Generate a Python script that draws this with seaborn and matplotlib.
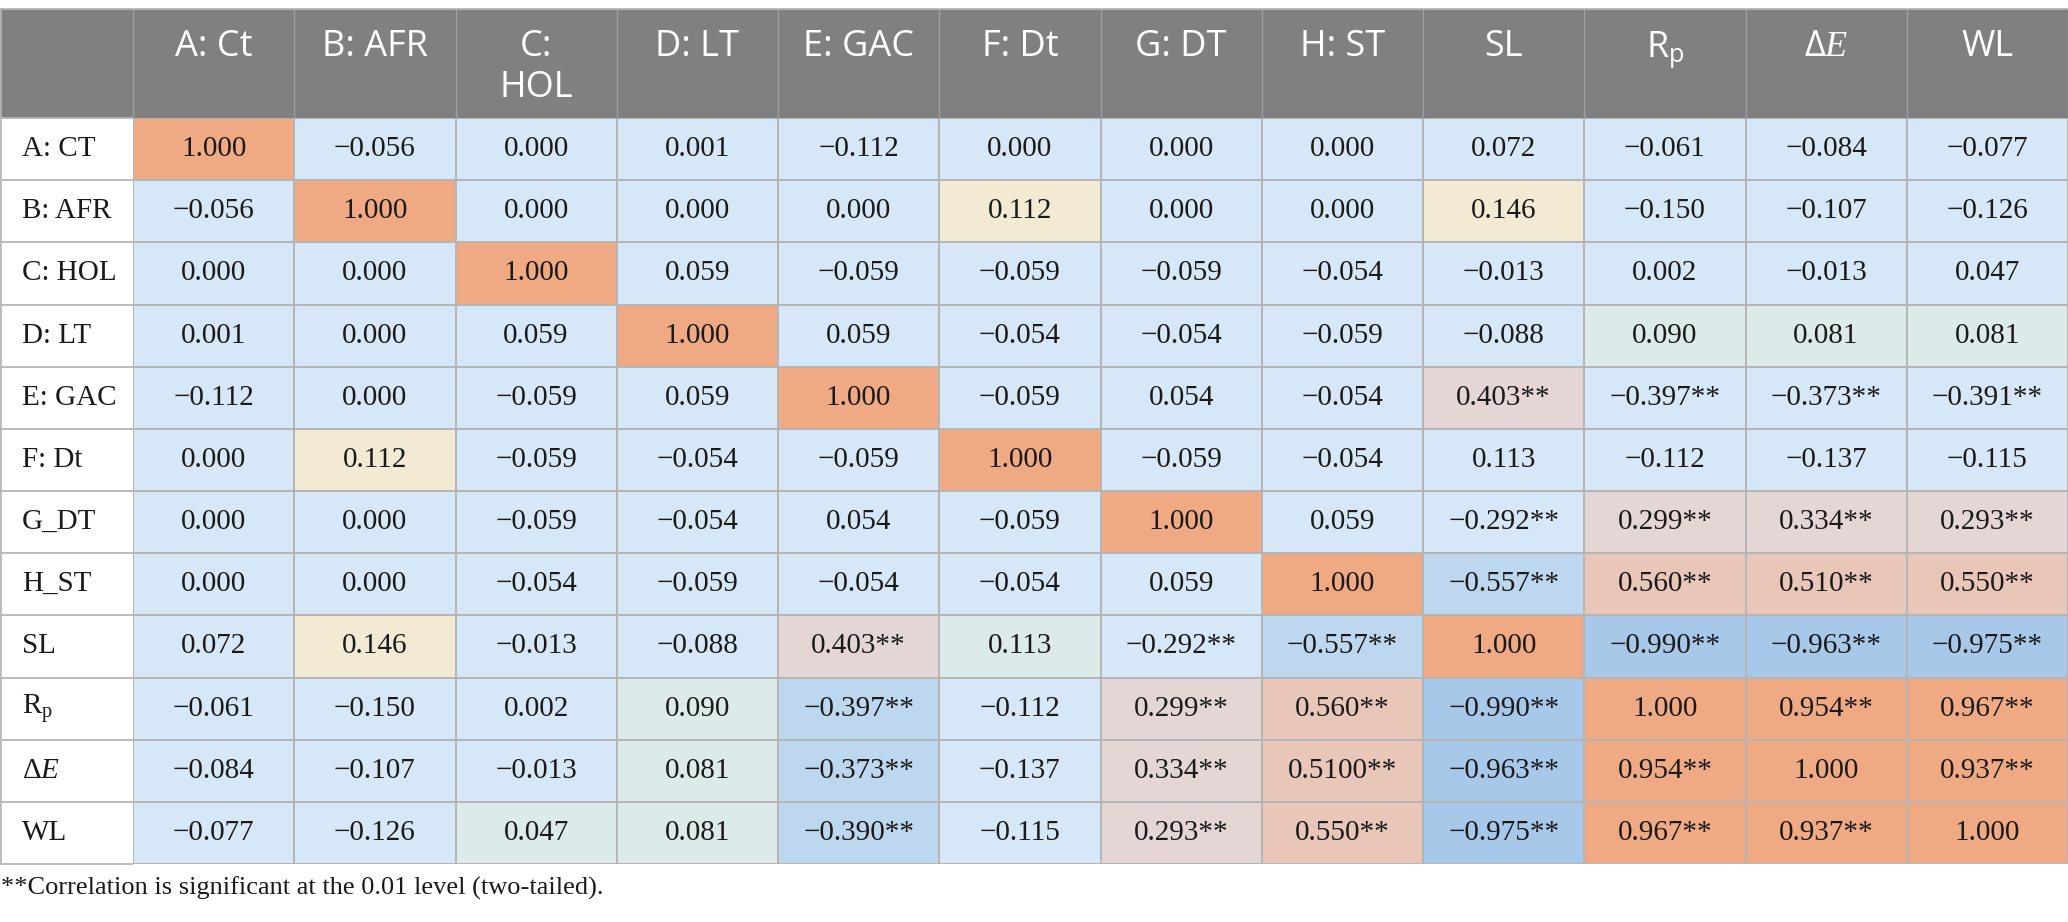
import numpy as np
import pandas as pd
import matplotlib
matplotlib.use("Agg")
import matplotlib.pyplot as plt
from matplotlib.colors import ListedColormap
from matplotlib.patches import Rectangle
import seaborn as sns

# correlation table, values as printed (with significance marks)
col_labels = ["A: Ct", "B: AFR", "C:\nHOL", "D: LT", "E: GAC", "F: Dt", "G: DT",
              "H: ST", "SL", r"R$_\mathregular{p}$", r"Δ$\mathit{E}$", "WL"]
row_labels = ["A: CT", "B: AFR", "C: HOL", "D: LT", "E: GAC", "F: Dt", "G_DT",
              "H_ST", "SL", r"R$_\mathregular{p}$", r"Δ$\mathit{E}$", "WL"]

cells = [
    ["1.000", "-0.056", "0.000", "0.001", "-0.112", "0.000", "0.000", "0.000", "0.072", "-0.061", "-0.084", "-0.077"],
    ["-0.056", "1.000", "0.000", "0.000", "0.000", "0.112", "0.000", "0.000", "0.146", "-0.150", "-0.107", "-0.126"],
    ["0.000", "0.000", "1.000", "0.059", "-0.059", "-0.059", "-0.059", "-0.054", "-0.013", "0.002", "-0.013", "0.047"],
    ["0.001", "0.000", "0.059", "1.000", "0.059", "-0.054", "-0.054", "-0.059", "-0.088", "0.090", "0.081", "0.081"],
    ["-0.112", "0.000", "-0.059", "0.059", "1.000", "-0.059", "0.054", "-0.054", "0.403**", "-0.397**", "-0.373**", "-0.391**"],
    ["0.000", "0.112", "-0.059", "-0.054", "-0.059", "1.000", "-0.059", "-0.054", "0.113", "-0.112", "-0.137", "-0.115"],
    ["0.000", "0.000", "-0.059", "-0.054", "0.054", "-0.059", "1.000", "0.059", "-0.292**", "0.299**", "0.334**", "0.293**"],
    ["0.000", "0.000", "-0.054", "-0.059", "-0.054", "-0.054", "0.059", "1.000", "-0.557**", "0.560**", "0.510**", "0.550**"],
    ["0.072", "0.146", "-0.013", "-0.088", "0.403**", "0.113", "-0.292**", "-0.557**", "1.000", "-0.990**", "-0.963**", "-0.975**"],
    ["-0.061", "-0.150", "0.002", "0.090", "-0.397**", "-0.112", "0.299**", "0.560**", "-0.990**", "1.000", "0.954**", "0.967**"],
    ["-0.084", "-0.107", "-0.013", "0.081", "-0.373**", "-0.137", "0.334**", "0.5100**", "-0.963**", "0.954**", "1.000", "0.937**"],
    ["-0.077", "-0.126", "0.047", "0.081", "-0.390**", "-0.115", "0.293**", "0.550**", "-0.975**", "0.967**", "0.937**", "1.000"],
]

# shading class of each cell as coloured in the source table
shade = [
    [7, 0, 0, 0, 0, 0, 0, 0, 0, 0, 0, 0],
    [0, 7, 0, 0, 0, 1, 0, 0, 1, 0, 0, 0],
    [0, 0, 7, 0, 0, 0, 0, 0, 0, 0, 0, 0],
    [0, 0, 0, 7, 0, 0, 0, 0, 0, 2, 2, 2],
    [0, 0, 0, 0, 7, 0, 0, 0, 3, 0, 0, 0],
    [0, 1, 0, 0, 0, 7, 0, 0, 0, 0, 0, 0],
    [0, 0, 0, 0, 0, 0, 7, 0, 0, 3, 3, 3],
    [0, 0, 0, 0, 0, 0, 0, 7, 5, 4, 4, 4],
    [0, 1, 0, 0, 3, 2, 0, 5, 7, 6, 6, 6],
    [0, 0, 0, 2, 5, 0, 3, 4, 6, 7, 7, 7],
    [0, 0, 0, 2, 5, 0, 3, 4, 6, 7, 7, 7],
    [0, 0, 2, 2, 5, 0, 3, 4, 6, 7, 7, 7],
]
shade_colors = ["#D6E7F7", "#F2EAD3", "#DDEAEA", "#E4D6D5",
                "#E8C6B8", "#BDD7EF", "#A8C8EA", "#F0AA83"]

note = "**Correlation is significant at the 0.01 level (two-tailed)."

serif = ["Liberation Serif", "DejaVu Serif"]
sans = ["Open Sans", "DejaVu Sans"]
plt.rcParams["mathtext.fontset"] = "custom"
plt.rcParams["mathtext.it"] = "Liberation Serif:italic"
plt.rcParams["mathtext.rm"] = "Liberation Serif"

W, H = 2068, 922
fig = plt.figure(figsize=(W / 100, H / 100), dpi=100)
left, top, bottom, head_top = 133, 118, 864, 9
ax = fig.add_axes([left / W, 1 - bottom / H, (W - left) / W, (bottom - top) / H])

df = pd.DataFrame(shade, index=row_labels, columns=col_labels)
annot = np.array([[c.replace("-", "\u2212") for c in r] for r in cells])
grid = "#B5B5B5"
sns.heatmap(df, ax=ax, annot=annot, fmt="", cbar=False,
            cmap=ListedColormap(shade_colors), vmin=-0.5, vmax=7.5,
            linewidths=1.3, linecolor=grid,
            annot_kws={"color": "#1a1a1a", "fontsize": 21, "family": serif})

n = len(col_labels)
col_w = (W - left) / n
row_h = (bottom - top) / len(row_labels)
lab_w = left / col_w
head_h = (top - head_top) / row_h

# header band and label column lines
ax.add_patch(Rectangle((-lab_w, -head_h), n + lab_w, head_h, facecolor="#808080",
                       edgecolor="none", clip_on=False, zorder=0))
ax.vlines(np.arange(0, n + 1), -head_h, 0, colors="#A0A0A0", linewidth=0.9, clip_on=False)
ax.hlines(np.arange(0, len(row_labels) + 1), -lab_w, 0, colors=grid, linewidth=1.3, clip_on=False)
ax.hlines([-head_h], -lab_w, n, colors=grid, linewidth=1.3, clip_on=False)
ax.vlines([-lab_w + 0.004], -head_h, len(row_labels), colors=grid, linewidth=1.3, clip_on=False)

ax.xaxis.tick_top()
ax.tick_params(axis="both", length=0)
ax.tick_params(axis="x", pad=(top - 29) * 0.72)
ax.tick_params(axis="y", pad=(left - 22) * 0.72)
ax.set_xticklabels(col_labels, rotation=0, color="white", fontsize=26, family=sans, va="top")
ax.set_yticklabels(row_labels, rotation=0, color="#1a1a1a", fontsize=21, family=serif, ha="left")
ax.set_xlabel("")
ax.set_ylabel("")

fig.text(1 / W, 1 - 888 / H, note, ha="left", va="center", fontsize=19,
         family=serif, color="#1a1a1a")

fig.savefig("out.png", dpi=100)
